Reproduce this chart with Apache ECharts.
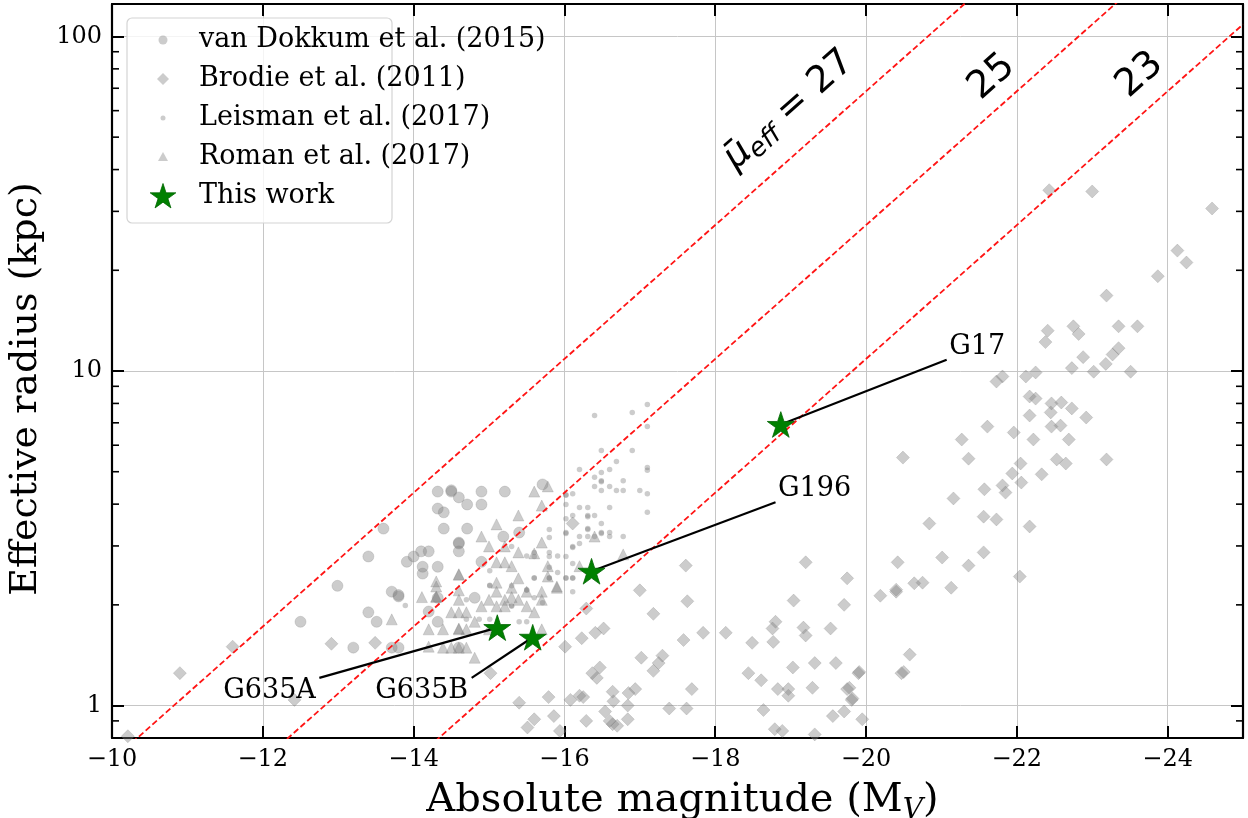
<!DOCTYPE html>
<html><head><meta charset="utf-8">
<script src="https://cdn.jsdelivr.net/npm/echarts@6/dist/echarts.min.js"></script>
<style>html,body{margin:0;padding:0;background:#fff}#c{width:1248px;height:818px}</style>
</head><body><div id="c"></div>
<script>
// ---------------- data (M_V, R_eff [kpc]) ----------------
const vanDokkum = [[-14.32,4.36],[-14.50,4.36],[-14.50,4.40],[-14.90,4.36],[-15.21,4.36],[-14.60,4.19],[-14.71,3.99],[-14.32,3.88],[-14.40,3.78],[-13.60,3.38],[-14.40,3.38],[-14.71,3.38],[-14.60,3.07],[-14.60,3.05],[-15.19,3.20],[-13.40,2.79],[-14.00,2.79],[-14.10,2.89],[-14.20,2.89],[-13.91,2.69],[-14.60,2.89],[-14.12,2.60],[-14.32,2.60],[-14.12,2.48],[-12.99,2.28],[-13.71,2.19],[-13.80,2.12],[-13.80,2.14],[-14.32,2.10],[-14.81,2.10],[-13.40,1.90],[-13.51,1.78],[-12.50,1.78],[-14.32,1.78],[-13.20,1.49],[-13.71,1.49],[-13.80,1.49],[-14.60,1.49],[-15.71,4.58],[-15.40,3.29],[-14.90,3.99],[-14.90,2.69],[-14.20,1.91]];
const brodie = [[-24.59,30.6],[-24.13,22.9],[-24.25,21.1],[-23.87,19.2],[-23.19,16.8],[-22.41,13.2],[-22.38,12.2],[-22.75,13.6],[-22.82,12.9],[-23.35,13.6],[-23.60,13.6],[-22.88,11.0],[-23.35,11.7],[-23.27,11.2],[-23.18,10.5],[-23.51,9.95],[-22.73,10.2],[-23.02,9.95],[-22.25,9.9],[-22.12,9.63],[-21.81,9.63],[-21.73,9.3],[-22.17,8.39],[-22.25,8.27],[-22.46,8.0],[-22.59,8.05],[-22.45,7.52],[-22.73,7.73],[-22.92,7.26],[-22.17,7.36],[-21.61,6.82],[-21.96,6.55],[-22.46,6.82],[-22.58,6.87],[-21.27,6.24],[-22.22,6.24],[-22.69,6.24],[-20.49,5.51],[-21.36,5.47],[-22.05,5.29],[-22.53,5.44],[-22.65,5.29],[-23.19,5.44],[-21.94,4.94],[-22.33,4.91],[-21.57,4.43],[-21.81,4.55],[-21.85,4.33],[-22.06,4.64],[-21.16,4.16],[-21.56,3.67],[-21.73,3.60],[-22.43,34.7],[-23.00,34.4],[-20.84,3.50],[-22.17,3.43],[-20.42,2.68],[-21.01,2.77],[-21.36,2.62],[-21.56,2.87],[-22.04,2.43],[-20.19,2.13],[-20.40,2.22],[-20.40,2.19],[-20.64,2.32],[-20.75,2.33],[-21.13,2.25],[-19.75,2.40],[-20.58,1.42],[-20.47,1.25],[-20.50,1.26],[-19.91,1.26],[-19.78,1.13],[-19.82,1.05],[-19.95,0.91],[-17.61,2.62],[-19.20,2.68],[-17.00,2.21],[-17.63,2.05],[-19.04,2.06],[-19.71,2.00],[-17.18,1.88],[-18.80,1.78],[-18.76,1.70],[-19.17,1.71],[-19.20,1.62],[-19.53,1.70],[-17.84,1.65],[-18.14,1.65],[-18.49,1.54],[-18.77,1.55],[-17.58,1.57],[-16.41,1.65],[-16.52,1.70],[-16.23,1.59],[-16.01,1.50],[-17.02,1.39],[-17.30,1.41],[-17.25,1.34],[-17.18,1.27],[-16.47,1.30],[-16.37,1.25],[-16.43,1.21],[-19.03,1.30],[-19.32,1.34],[-19.60,1.34],[-19.90,1.25],[-18.44,1.25],[-18.61,1.19],[-17.69,1.12],[-15.79,1.06],[-16.08,1.04],[-16.20,1.07],[-16.25,1.06],[-16.64,1.10],[-16.65,1.03],[-16.85,1.09],[-16.94,1.12],[-16.84,1.00],[-18.83,1.12],[-18.97,1.12],[-18.97,1.07],[-19.29,1.13],[-19.75,1.12],[-19.81,1.04],[-15.40,1.02],[-17.39,0.98],[-17.62,0.98],[-18.64,0.97],[-19.56,0.93],[-19.71,0.96],[-15.60,0.91],[-15.86,0.93],[-15.51,0.86],[-15.94,0.84],[-16.29,0.90],[-16.54,0.96],[-16.60,0.90],[-16.64,0.88],[-16.70,0.87],[-16.84,0.91],[-18.79,0.85],[-18.89,0.84],[-19.32,0.82],[-10.90,1.25],[-11.60,1.50],[-12.91,1.53],[-13.49,1.54],[-12.42,1.04],[-15.02,1.25],[-10.21,0.81],[-16.29,1.95],[-16.11,3.50]];
const leisman = [[-16.40,7.36],[-16.90,7.51],[-17.10,7.94],[-17.10,6.82],[-16.49,5.79],[-16.90,5.79],[-16.69,5.36],[-16.20,5.08],[-16.49,4.97],[-16.60,5.08],[-17.10,5.15],[-17.10,5.05],[-16.40,4.81],[-16.49,4.70],[-16.49,4.67],[-16.78,4.70],[-16.40,4.52],[-16.49,4.39],[-16.60,4.52],[-16.69,4.39],[-16.78,4.39],[-17.00,4.39],[-17.10,4.30],[-16.11,4.30],[-16.02,4.27],[-16.02,4.25],[-16.02,3.99],[-16.20,3.91],[-16.31,3.91],[-16.60,3.91],[-16.11,3.70],[-16.31,3.70],[-16.31,3.67],[-16.40,3.70],[-17.10,3.78],[-16.02,3.62],[-16.31,3.38],[-16.31,3.36],[-16.49,3.50],[-16.20,3.20],[-16.31,3.20],[-16.49,3.29],[-16.49,3.27],[-16.60,3.29],[-16.60,3.20],[-16.78,3.20],[-16.40,3.20],[-16.02,3.29],[-16.02,3.27],[-15.80,3.36],[-15.80,3.18],[-16.20,3.05],[-16.11,2.99],[-16.11,2.97],[-16.02,2.79],[-15.91,2.80],[-15.80,2.87],[-15.80,2.79],[-15.60,2.87],[-15.60,2.79],[-15.50,2.80],[-15.30,2.99],[-16.11,2.66],[-16.11,2.40],[-16.11,2.41],[-16.02,2.40],[-16.02,2.41],[-15.91,2.50],[-15.80,2.59],[-15.60,2.40],[-15.60,2.41],[-15.80,2.40],[-15.80,2.41],[-15.01,2.28],[-15.01,2.29],[-15.30,2.28],[-15.50,2.22],[-15.50,2.21],[-15.30,1.98],[-15.30,1.99],[-15.60,2.10],[-15.71,2.03],[-15.40,1.78],[-15.50,1.78],[-16.11,2.19],[-14.70,2.07],[-15.01,2.53],[-13.89,1.99],[-14.70,1.81],[-15.01,1.81],[-14.87,1.81]];
const roman = [[-15.60,4.36],[-15.78,4.52],[-15.70,3.96],[-15.39,3.70],[-15.10,3.48],[-14.90,3.20],[-15.00,2.99],[-15.21,2.99],[-15.70,3.07],[-15.39,2.87],[-15.10,2.68],[-15.21,2.68],[-15.30,2.61],[-15.60,2.85],[-15.78,2.61],[-15.39,2.40],[-15.78,2.43],[-15.90,2.27],[-16.20,2.61],[-16.40,3.20],[-16.78,2.83],[-15.10,2.19],[-15.30,2.25],[-15.50,2.19],[-15.70,2.19],[-14.90,1.98],[-15.00,2.07],[-15.21,2.07],[-15.39,2.07],[-15.50,1.98],[-15.60,1.90],[-15.70,2.07],[-15.21,1.98],[-15.10,1.98],[-14.60,2.07],[-14.81,1.78],[-15.70,1.69],[-14.70,1.69],[-14.60,2.46],[-14.60,2.47],[-14.30,2.35],[-14.30,2.27],[-14.11,2.11],[-14.30,2.11],[-14.30,2.12],[-14.60,2.21],[-15.30,2.11],[-14.60,1.90],[-14.70,1.90],[-15.10,2.33],[-13.71,1.81],[-14.20,1.69],[-14.39,1.69],[-14.60,1.69],[-14.60,1.70],[-15.90,2.25],[-14.50,1.90],[-15.00,1.69],[-15.10,1.69],[-14.39,1.49],[-14.50,1.49],[-14.70,1.49],[-14.81,1.39],[-14.60,1.49],[-14.20,1.50]];
const thisWork = [[-18.87,6.92],[-16.36,2.52],[-15.11,1.71],[-15.58,1.60]];
const thisWorkNames = ['G17','G196','G635A','G635B'];
const labelAnchors = [[-21.07,10.8],[-18.80,4.05],[-12.75,1.21],[-14.77,1.21]];
const muEffLevels = [27,25,23];
const muZeroPoint = 37.82;          // log10 R = (mu - M - zp)/5
const xRange = [-25,-10];
const yRange = [0.8,125];
const yMinorTicks = [0.9,2,3,4,5,6,7,8,9,20,30,40,50,60,70,80,90];
const legendNames = ['van Dokkum et al. (2015)','Brodie et al. (2011)','Leisman et al. (2017)','Roman et al. (2017)','This work'];

// ---------------- chart ----------------
const SERIF = '"DejaVu Serif", serif';
const GREY = 'rgba(128,128,128,0.4)';
const STAR = 'path://M0,-100L22.45,-30.9L95.1,-30.9L36.3,11.8L58.8,80.9L0,38.2L-58.8,80.9L-36.3,11.8L-95.1,-30.9L-22.45,-30.9Z';
const chart = echarts.init(document.getElementById('c'), null, {renderer:'canvas'});

const muLine = mu => [xRange[1], xRange[0]].map(M => [M, Math.pow(10, (mu - M - muZeroPoint)/5)]);
const isPow10 = v => Math.abs(Math.log10(v) - Math.round(Math.log10(v))) < 1e-6;

const series = [];
const greyStyle = {color:GREY, opacity:1, borderColor:'rgba(128,128,128,0.25)', borderWidth:1};
series.push({type:'scatter', name:legendNames[1], data:brodie, symbol:'diamond', symbolSize:13, itemStyle:greyStyle, z:2, silent:true});
series.push({type:'scatter', name:legendNames[0], data:vanDokkum, symbol:'circle', symbolSize:11, itemStyle:greyStyle, z:2, silent:true});
series.push({type:'scatter', name:legendNames[2], data:leisman, symbol:'circle', symbolSize:5.5, itemStyle:{color:GREY, opacity:1}, z:2, silent:true});
series.push({type:'scatter', name:legendNames[3], data:roman, symbol:'triangle', symbolSize:11, itemStyle:greyStyle, z:2, silent:true});
muEffLevels.forEach(mu => series.push({
  type:'line', data:muLine(mu), symbol:'none', clip:true, silent:true, z:3,
  lineStyle:{color:'#ff1414', width:1.8, type:[6,3]}
}));
thisWork.forEach((p,i) => series.push({
  type:'line', data:[p, labelAnchors[i]], symbol:'none', silent:true, z:4,
  lineStyle:{color:'#000', width:2.2}
}));
series.push({
  type:'scatter', symbolSize:1, itemStyle:{color:'rgba(0,0,0,0)', opacity:1}, silent:true, z:4,
  data: labelAnchors.map((p,i) => ({
    value:p,
    label:{show:true, formatter:thisWorkNames[i], fontFamily:SERIF, fontSize:27, color:'#000', opacity:1,
      position: i < 2 ? [3,1] : [-3,0], align: i < 2 ? 'left' : 'right', verticalAlign: i < 2 ? 'bottom' : 'top'}
  }))
});
series.push({type:'scatter', name:legendNames[4], data:thisWork, symbol:STAR, symbolSize:27, symbolKeepAspect:true,
  itemStyle:{color:'#008000', borderColor:'#006400', borderWidth:0.8, opacity:1}, z:6, silent:true});
series.push({
  type:'custom', data: yMinorTicks.map(v => [xRange[1], v]), silent:true, z:7,
  renderItem: (params, api) => {
    const v = api.value(1);
    const l = api.coord([xRange[1], v]);
    const r = api.coord([xRange[0], v]);
    return {type:'group', children:[
      {type:'line', shape:{x1:l[0], y1:l[1], x2:l[0]+7, y2:l[1]}, style:{stroke:'#000', lineWidth:1.6}},
      {type:'line', shape:{x1:r[0]-7, y1:r[1], x2:r[0], y2:r[1]}, style:{stroke:'#000', lineWidth:1.6}}
    ]};
  }
});

const axisLineCommon = {show:true, onZero:false, lineStyle:{color:'#000', width:2.2}};
const tickCommon = {show:true, inside:true, length:12, lineStyle:{color:'#000', width:2}};

// legend drawn as graphic
const legendX = 127, legendY = 18, rowGap = 39, row0 = 40, mx = 163, tx = 199;
function starPts(cx, cy, R){
  const pts=[]; for(let k=0;k<10;k++){const a=-Math.PI/2+k*Math.PI/5; const r=k%2?R*0.382:R; pts.push([cx+r*Math.cos(a), cy+r*Math.sin(a)]);} return pts;
}
const lg = [];
lg.push({type:'rect', x:legendX, y:legendY, shape:{width:265, height:205, r:5}, style:{fill:'rgba(255,255,255,0.8)', stroke:'#d4d4d4', lineWidth:1.2}, z:100});
const legendMarkers = [
  {type:'circle', shape:{cx:mx, cy:row0, r:4.5}},
  {type:'polygon', shape:{points:[[mx,row0+rowGap-6],[mx+6,row0+rowGap],[mx,row0+rowGap+6],[mx-6,row0+rowGap]]}},
  {type:'circle', shape:{cx:mx, cy:row0+2*rowGap, r:2.5}},
  {type:'polygon', shape:{points:[[mx,row0+3*rowGap-5],[mx+5,row0+3*rowGap+4],[mx-5,row0+3*rowGap+4]]}},
  {type:'polygon', shape:{points:starPts(mx, row0+4*rowGap+1, 13.5)}}
];
legendMarkers.forEach((m,i) => {
  m.style = i < 4 ? {fill:GREY} : {fill:'#008000', stroke:'#006400', lineWidth:0.8};
  m.z = 101; lg.push(m);
  lg.push({type:'text', x:tx, y:row0+i*rowGap, z:101,
    style:{text:legendNames[i], font:'27px ' + SERIF, fill:'#000', align:'left', verticalAlign:'middle'}});
});
// mu_eff labels
const rot = 41.6*Math.PI/180;
lg.push({type:'text', x:789, y:110, rotation:rot, z:50, style:{
  text:'{mu|\u03BC\u0304}{sub|eff}{n| = 27}', align:'center', verticalAlign:'middle',
  rich:{
    mu:{fontFamily:'"DejaVu Sans"', fontStyle:'italic', fontSize:37, fill:'#000', lineHeight:44},
    sub:{fontFamily:'"DejaVu Sans"', fontStyle:'italic', fontSize:26, fill:'#000', lineHeight:28, verticalAlign:'bottom'},
    n:{fontFamily:'"DejaVu Sans"', fontSize:37, fill:'#000', lineHeight:44}
  }}});
lg.push({type:'text', x:992, y:77, rotation:rot, z:50, style:{text:String(muEffLevels[1]), font:'38px "DejaVu Sans"', fill:'#000', align:'center', verticalAlign:'middle'}});
lg.push({type:'text', x:1140, y:75, rotation:rot, z:50, style:{text:String(muEffLevels[2]), font:'38px "DejaVu Sans"', fill:'#000', align:'center', verticalAlign:'middle'}});

const option = {
  animation:false,
  grid:{left:112, right:5, top:4, bottom:80, containLabel:false, outerBoundsMode:'none'},
  xAxis:[{
    type:'value', min:xRange[0], max:xRange[1], inverse:true, minInterval:2, maxInterval:2, position:'bottom',
    axisLine:axisLineCommon, axisTick:tickCommon,
    axisLabel:{formatter: v => (Math.round(v) % 2 === 0 && v > xRange[0]) ? '\u2212' + Math.abs(v) : '', fontFamily:SERIF, fontSize:24, color:'#000', margin:10},
    splitLine:{show:true, lineStyle:{color:'#c6c6c6', width:1}},
    name:'Absolute magnitude (M{sub|V})', nameLocation:'middle', nameGap:27,
    nameTextStyle:{fontFamily:SERIF, fontSize:40, color:'#000', verticalAlign:'top', lineHeight:48, padding:[0,0,0,10],
      rich:{sub:{fontFamily:SERIF, fontStyle:'italic', fontSize:28, color:'#000', lineHeight:27, verticalAlign:'bottom'}}}
  },{
    type:'value', min:xRange[0], max:xRange[1], inverse:true, minInterval:2, maxInterval:2, position:'top',
    axisLine:axisLineCommon, axisTick:tickCommon, axisLabel:{show:false}, splitLine:{show:false}
  }],
  yAxis:[{
    type:'log', logBase:10, min:yRange[0], max:yRange[1], position:'left',
    axisLine:axisLineCommon, axisTick:tickCommon,
    axisLabel:{formatter: v => isPow10(v) ? String(Math.round(v)) : '', fontFamily:SERIF, fontSize:24, color:'#000', margin:10},
    splitLine:{show:true, lineStyle:{color:'#c6c6c6', width:1}},
    name:'Effective radius (kpc)', nameLocation:'middle', nameGap:58,
    nameTextStyle:{fontFamily:SERIF, fontSize:38, color:'#000', padding:[0,36,0,0]}
  },{
    type:'log', logBase:10, min:yRange[0], max:yRange[1], position:'right',
    axisLine:axisLineCommon, axisTick:tickCommon, axisLabel:{show:false}, splitLine:{show:false}
  }],
  series:series,
  graphic:lg
};
chart.setOption(option);
</script></body></html>
